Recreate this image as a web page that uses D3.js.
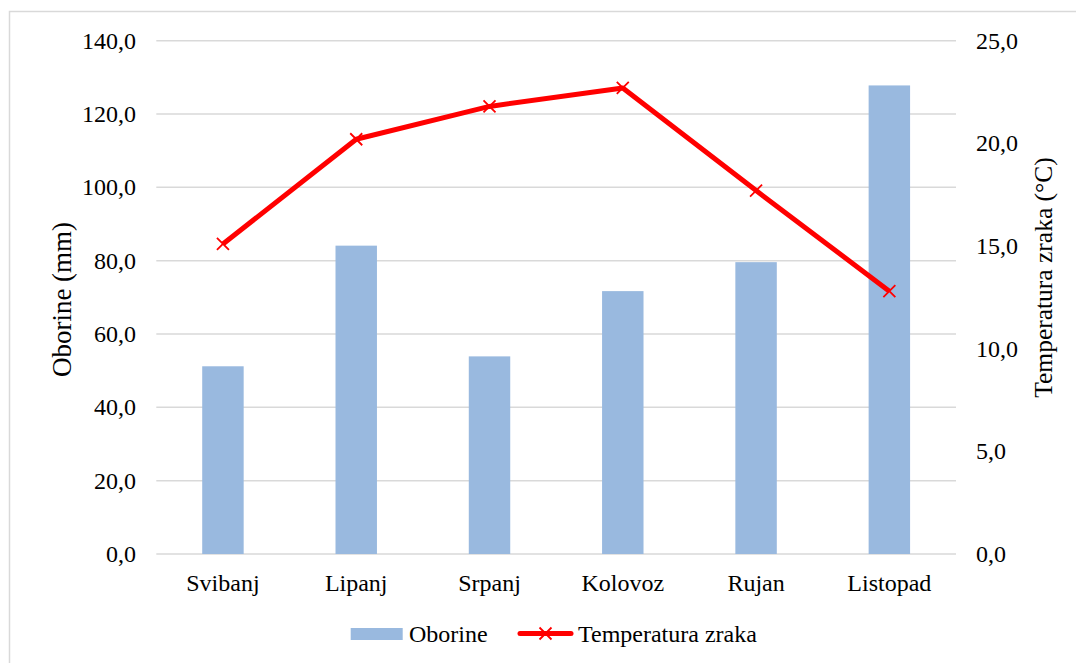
<!DOCTYPE html>
<html><head><meta charset="utf-8">
<script src="https://cdn.jsdelivr.net/npm/d3@7"></script>
<style>body{margin:0;background:#fff}svg{display:block}</style>
</head><body>
<script>
const categories = ["Svibanj","Lipanj","Srpanj","Kolovoz","Rujan","Listopad"];
const oborine = [51.2, 84.1, 53.9, 71.7, 79.6, 127.8];
const temperatura = [15.1, 20.2, 21.8, 22.7, 17.7, 12.8];
const leftTicks = [0,20,40,60,80,100,120,140];
const rightTicks = [0,5,10,15,20,25];
const seriesNames = ["Oborine","Temperatura zraka"];
const axisTitles = ["Oborine (mm)","Temperatura zraka (°C)"];

const FONT="'Liberation Serif', serif";
const W=1076,H=663;
const svg=d3.select("body").append("svg").attr("width",W).attr("height",H);
svg.append("rect").attr("x",9.5).attr("y",11.5).attr("width",1200).attr("height",800)
  .attr("fill","none").attr("stroke","#d9d9d9").attr("stroke-width",1.5);

const L=156.3,R=956,T=40.7,B=554;
const x=d3.scaleBand().domain(categories).range([L,R]);
const yL=d3.scaleLinear().domain([0,140]).range([B,T]);
const yR=d3.scaleLinear().domain([0,25]).range([B,T]);
const fmt=d=>d3.format(".1f")(d).replace(".",",");
const fs=24;

svg.append("g").selectAll("line").data(leftTicks).join("line")
  .attr("x1",L).attr("x2",R).attr("y1",d=>yL(d)).attr("y2",d=>yL(d))
  .attr("stroke","#d9d9d9").attr("stroke-width",1.5);

svg.append("g").selectAll("text").data(leftTicks).join("text")
  .attr("x",136).attr("y",d=>yL(d)).attr("dy","0.33em").attr("text-anchor","end")
  .attr("font-size",fs).attr("font-family",FONT).text(fmt);
svg.append("g").selectAll("text").data(rightTicks).join("text")
  .attr("x",976).attr("y",d=>yR(d)).attr("dy","0.33em").attr("text-anchor","start")
  .attr("font-size",fs).attr("font-family",FONT).text(fmt);

const bw=x.bandwidth()*0.311;
svg.append("g").selectAll("rect").data(categories).join("rect")
  .attr("x",(d)=>x(d)+(x.bandwidth()-bw)/2).attr("width",bw)
  .attr("y",(d,i)=>yL(oborine[i])).attr("height",(d,i)=>B-yL(oborine[i]))
  .attr("fill","#99b9df");

svg.append("g").selectAll("text").data(categories).join("text")
  .attr("x",d=>x(d)+x.bandwidth()/2).attr("y",591).attr("text-anchor","middle")
  .attr("font-size",fs).attr("font-family",FONT).text(d=>d);

const line=d3.line().x((d,i)=>x(categories[i])+x.bandwidth()/2).y(d=>yR(d));
svg.append("path").datum(temperatura).attr("d",line).attr("fill","none")
  .attr("stroke","#ff0000").attr("stroke-width",5).attr("stroke-linejoin","round");
const m=6;
const mk=svg.append("g").selectAll("g").data(temperatura).join("g")
  .attr("transform",(d,i)=>`translate(${x(categories[i])+x.bandwidth()/2},${yR(d)})`);
mk.append("path").attr("d",`M${-m},${-m}L${m},${m}M${-m},${m}L${m},${-m}`)
  .attr("stroke","#ff0000").attr("stroke-width",1.8);

svg.append("text").attr("transform","translate(62,299.5) rotate(-90)").attr("text-anchor","middle")
  .attr("dy","0.33em").attr("font-size",27).attr("font-family",FONT).text(axisTitles[0]);
svg.append("text").attr("transform","translate(1044,277.5) rotate(-90)").attr("text-anchor","middle")
  .attr("dy","0.33em").attr("font-size",25.5).attr("font-family",FONT).text(axisTitles[1]);

const lg=svg.append("g");
lg.append("rect").attr("x",350.7).attr("y",628).attr("width",52).attr("height",12).attr("fill","#99b9df");
lg.append("text").attr("x",409).attr("y",634).attr("dy","0.33em").attr("font-size",fs).attr("font-family",FONT).text(seriesNames[0]);
lg.append("line").attr("x1",520).attr("x2",571).attr("y1",633.5).attr("y2",633.5)
  .attr("stroke","#ff0000").attr("stroke-width",5).attr("stroke-linecap","round");
lg.append("path").attr("d",`M${545.5-m},${633.5-m}L${545.5+m},${633.5+m}M${545.5-m},${633.5+m}L${545.5+m},${633.5-m}`)
  .attr("stroke","#ff0000").attr("stroke-width",1.8);
lg.append("text").attr("x",578).attr("y",634).attr("dy","0.33em").attr("font-size",fs).attr("font-family",FONT).text(seriesNames[1]);
</script>
</body></html>
